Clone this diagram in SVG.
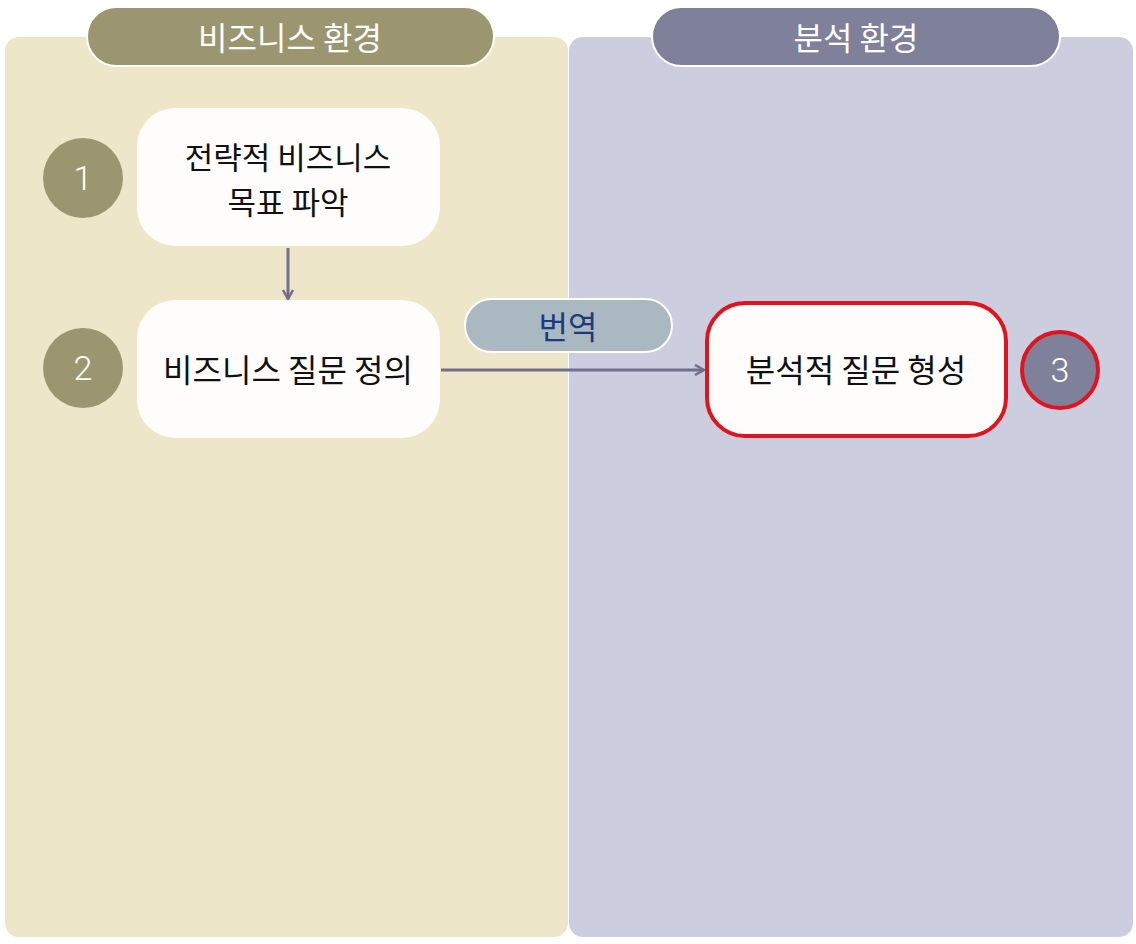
<svg xmlns="http://www.w3.org/2000/svg" width="1136" height="944" viewBox="0 0 1136 944">
<defs>
<style>
text{font-family:"Noto Sans CJK KR","Noto Sans",sans-serif;text-anchor:middle;dominant-baseline:central}
.node{fill:#fefdfb}
.nt{font-size:32px;fill:#111}
.hd{font-size:32px;fill:#fff}
.num{font-size:34px;fill:#fff;font-family:Roboto,"Noto Sans",sans-serif;font-weight:300}
.edge{stroke:#6f6e8c;stroke-width:3;fill:none}
</style>
<marker id="ah" viewBox="0 0 12 12" refX="10" refY="6" markerWidth="12" markerHeight="12" markerUnits="userSpaceOnUse" orient="auto">
<path d="M1,1 L10,6 L1,11" fill="none" stroke="#6f6e8c" stroke-width="2.5"/>
</marker>
</defs>
<rect width="1136" height="944" fill="#ffffff"/>
<g id="lane-business">
<rect x="5" y="37" width="563" height="900" rx="14" fill="#ede6c8"/>
<rect x="87" y="7" width="407" height="59" rx="29.5" fill="#9c9670" stroke="#ffffff" stroke-width="2"/>
<text class="hd" x="290" y="36">비즈니스 환경</text>
</g>
<g id="lane-analysis">
<rect x="569" y="37" width="564" height="900" rx="14" fill="#cdcde0"/>
<rect x="652" y="7" width="408" height="59" rx="29.5" fill="#7f8099" stroke="#ffffff" stroke-width="2"/>
<text class="hd" x="856" y="36">분석 환경</text>
</g>
<g id="connectors">
<line class="edge" x1="288" y1="248" x2="288" y2="299" marker-end="url(#ah)"/>
<line class="edge" x1="441" y1="370" x2="704" y2="370" marker-end="url(#ah)"/>
</g>
<g id="label-translate">
<rect x="465" y="299" width="207" height="53" rx="26.5" fill="#a9b8c1" stroke="#ffffff" stroke-width="2"/>
<text x="568" y="325" style="font-size:32px;fill:#1f3a7c">번역</text>
</g>
<g id="node1">
<rect class="node" x="137" y="108" width="303" height="138" rx="38"/>
<text class="nt" x="288" y="155" style="font-size:31px"><tspan x="288" y="155">전략적 비즈니스</tspan><tspan x="288" y="200">목표 파악</tspan></text>
</g>
<g id="badge1">
<circle cx="83" cy="178" r="40" fill="#9c9670"/>
<text class="num" x="83" y="178">1</text>
</g>
<g id="node2">
<rect class="node" x="137" y="300" width="303" height="138" rx="38"/>
<text class="nt" x="288" y="368">비즈니스 질문 정의</text>
</g>
<g id="badge2">
<circle cx="83" cy="368" r="40" fill="#9c9670"/>
<text class="num" x="83" y="368">2</text>
</g>
<g id="node3">
<rect class="node" x="707" y="303" width="299" height="133" rx="38" stroke="#e0141e" stroke-width="4"/>
<text class="nt" x="856" y="368">분석적 질문 형성</text>
</g>
<g id="badge3">
<circle cx="1060" cy="370" r="38" fill="#7f8099" stroke="#e0141e" stroke-width="4"/>
<text class="num" x="1060" y="370">3</text>
</g>
</svg>
